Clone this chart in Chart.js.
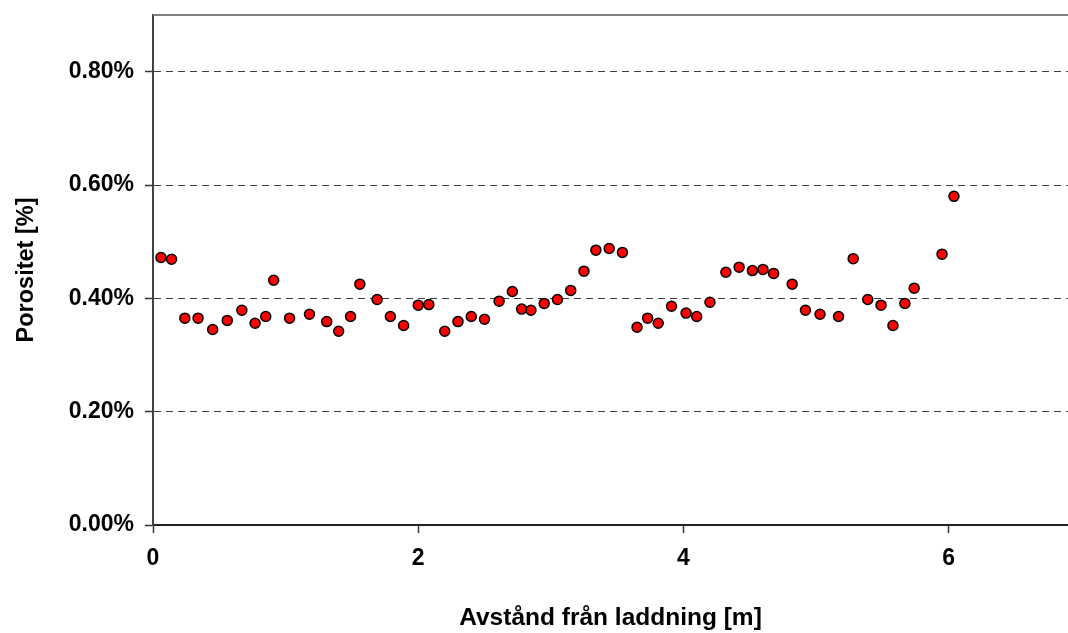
<!DOCTYPE html>
<html>
<head>
<meta charset="utf-8">
<script src="https://cdn.jsdelivr.net/npm/chart.js@4/dist/chart.umd.min.js"></script>
<style>
  html, body { margin: 0; padding: 0; background: #fff; }
  #wrap { width: 1068px; height: 633px; }
</style>
</head>
<body>
<div id="wrap"><canvas id="c" width="1068" height="633"></canvas></div>
<script>
// Distance from charge [m]
const distances = [
  0.06, 0.14, 0.24, 0.34, 0.45, 0.56, 0.67, 0.77, 0.85, 0.91,
  1.03, 1.18, 1.31, 1.40, 1.49, 1.56, 1.69, 1.79, 1.89, 2.00,
  2.08, 2.20, 2.30, 2.40, 2.50, 2.61, 2.71, 2.78, 2.85, 2.95,
  3.05, 3.15, 3.25, 3.34, 3.44, 3.54, 3.65, 3.73, 3.81, 3.91,
  4.02, 4.10, 4.20, 4.32, 4.42, 4.52, 4.60, 4.68, 4.82, 4.92,
  5.03, 5.17, 5.28, 5.39, 5.49, 5.58, 5.67, 5.74, 5.95, 6.04
];
// Porosity [%]
const porosity = [
  0.472, 0.469, 0.365, 0.365, 0.345, 0.361, 0.379, 0.356, 0.368, 0.432,
  0.365, 0.372, 0.359, 0.342, 0.368, 0.425, 0.398, 0.368, 0.352, 0.388,
  0.389, 0.342, 0.359, 0.368, 0.363, 0.395, 0.412, 0.381, 0.379, 0.391,
  0.398, 0.414, 0.448, 0.485, 0.488, 0.481, 0.349, 0.365, 0.356, 0.386,
  0.374, 0.368, 0.393, 0.446, 0.455, 0.449, 0.451, 0.444, 0.425, 0.379,
  0.372, 0.368, 0.470, 0.398, 0.388, 0.352, 0.391, 0.418, 0.478, 0.580
];
const xTicks = [0, 2, 4, 6];
const yTicks = [0, 0.2, 0.4, 0.6, 0.8];
const xTitle = 'Avstånd från laddning [m]';
const yTitle = 'Porositet [%]';

const points = distances.map((d, i) => ({ x: d, y: porosity[i] }));

const topBorder = {
  id: 'topBorder',
  afterDraw(chart) {
    const { ctx, chartArea } = chart;
    ctx.save();
    ctx.strokeStyle = '#808080';
    ctx.lineWidth = 2;
    ctx.beginPath();
    ctx.moveTo(chartArea.left, chartArea.top);
    ctx.lineTo(chartArea.right + 2, chartArea.top);
    ctx.stroke();
    ctx.restore();
  }
};

const font = { family: "'Liberation Sans', Arial, sans-serif", weight: 'bold', size: 23 };

new Chart(document.getElementById('c'), {
  type: 'scatter',
  data: {
    datasets: [{
      data: points,
      backgroundColor: '#ff0000',
      borderColor: '#000000',
      borderWidth: 1.5,
      pointRadius: 5,
      pointHoverRadius: 5
    }]
  },
  options: {
    responsive: false,
    animation: false,
    events: [],
    layout: { autoPadding: false, padding: { top: 15, left: 0, right: 0, bottom: 0 } },
    plugins: { legend: { display: false }, tooltip: { enabled: false } },
    scales: {
      x: {
        type: 'linear',
        min: 0,
        max: 6.9,
        afterFit(scale) { scale.height = 108; scale.paddingLeft = 0; scale.paddingRight = 0; },
        afterBuildTicks(scale) { scale.ticks = xTicks.map(v => ({ value: v })); },
        ticks: { font, color: '#000', padding: 12, callback: v => String(v), maxRotation: 0 },
        grid: { drawOnChartArea: false, drawTicks: true, tickLength: 8, tickColor: '#333', tickWidth: 1.5 },
        border: { display: true, color: '#222', width: 2 },
        title: { display: true, text: xTitle, font: { ...font, size: 24.5 }, color: '#000', padding: { top: 0, bottom: 0 } }
      },
      y: {
        type: 'linear',
        min: 0,
        max: 0.9,
        afterFit(scale) { scale.width = 153; scale.paddingTop = 0; scale.paddingBottom = 0; },
        afterBuildTicks(scale) { scale.ticks = yTicks.map(v => ({ value: v })); },
        ticks: { font, color: '#000', padding: 11, callback: v => v.toFixed(2) + '%' },
        grid: { color: '#404040', lineWidth: 1, tickLength: 8, tickColor: '#333', tickWidth: 1.5 },
        border: { display: true, color: '#404040', width: 2, dash: [7, 5] },
        title: { display: true, text: yTitle, font: { ...font, size: 23.5 }, color: '#000', padding: { top: 12, bottom: 0 } }
      }
    }
  },
  plugins: [topBorder]
});
</script>
</body>
</html>
